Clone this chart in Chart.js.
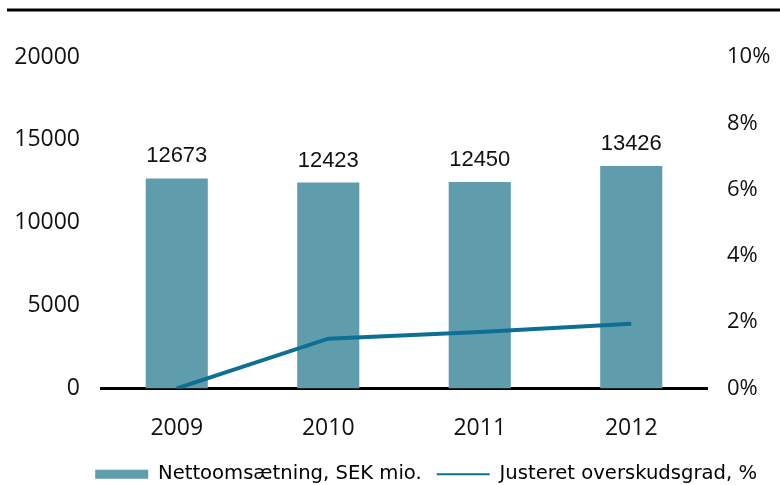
<!DOCTYPE html>
<html>
<head>
<meta charset="utf-8">
<script src="https://cdn.jsdelivr.net/npm/chart.js@4"></script>
<style>
  body { margin: 0; background: #fff; }
  canvas { display: block; }
</style>
</head>
<body>
<canvas id="chart" width="780" height="485"></canvas>
<script>
// ==================== DATA ====================
const years = ['2009', '2010', '2011', '2012'];
const netSales = [12673, 12423, 12450, 13426];      // SEK mio.
const marginPct = [0, 1.5, 1.7, 1.95];              // %
const salesLabel = 'Nettoomsætning, SEK mio.';
const marginLabel = 'Justeret overskudsgrad, %';

const BAR_COLOR = '#5f9dad';
const LINE_COLOR = '#0e6f95';
const TICK_FONT = { family: 'Open Sans', size: 23 };

// ==================== PLUGINS ====================
// black rule across the top of the figure
const topRule = {
    id: 'topRule',
    beforeDraw(chart) {
        const ctx = chart.ctx;
        ctx.save();
        ctx.strokeStyle = '#000';
        ctx.lineWidth = 3;
        ctx.beginPath();
        ctx.moveTo(7, 10);
        ctx.lineTo(chart.width, 10);
        ctx.stroke();
        ctx.restore();
    }
};

// value labels above the bars
const barValues = {
    id: 'barValues',
    afterDatasetsDraw(chart) {
        const ctx = chart.ctx;
        const meta = chart.getDatasetMeta(0);
        ctx.save();
        ctx.font = '22px "Liberation Sans", Arial, sans-serif';
        ctx.fillStyle = '#111';
        ctx.textAlign = 'center';
        ctx.textBaseline = 'middle';
        meta.data.forEach((bar, i) => {
            ctx.fillText(String(netSales[i]), bar.x, bar.y - 22);
        });
        ctx.restore();
    }
};

// ==================== CHART ====================
const ctx = document.getElementById('chart').getContext('2d');
new Chart(ctx, {
    type: 'bar',
    data: {
        labels: years,
        datasets: [
            {
                type: 'bar',
                label: salesLabel,
                data: netSales,
                backgroundColor: BAR_COLOR,
                yAxisID: 'y',
                order: 2,
                categoryPercentage: 1,
                barPercentage: 0.41
            },
            {
                type: 'line',
                label: marginLabel,
                data: marginPct,
                borderColor: LINE_COLOR,
                backgroundColor: LINE_COLOR,
                borderWidth: 4,
                pointRadius: 0,
                tension: 0,
                yAxisID: 'y1',
                order: 1
            }
        ]
    },
    options: {
        responsive: false,
        animation: false,
        layout: { padding: { top: 57, right: 8, left: 0, bottom: -9 } },
        plugins: {
            tooltip: { enabled: false },
            legend: {
                position: 'bottom',
                align: 'end',
                labels: {
                    usePointStyle: true,
                    pointStyleWidth: 53,
                    boxHeight: 9,
                    padding: 15,
                    color: '#111',
                    font: { family: 'DejaVu Sans', size: 19.6 },
                    generateLabels(chart) {
                        return chart.data.datasets.map((ds, i) => ({
                            text: ds.label,
                            fillStyle: ds.backgroundColor,
                            strokeStyle: ds.type === 'line' ? ds.borderColor : ds.backgroundColor,
                            lineWidth: ds.type === 'line' ? 2 : 0,
                            pointStyle: ds.type === 'line' ? 'line' : 'rect',
                            datasetIndex: i,
                            hidden: false
                        }));
                    }
                }
            }
        },
        scales: {
            x: {
                grid: { display: false, drawTicks: false },
                border: { display: true, color: '#000', width: 3 },
                ticks: { color: '#111', font: TICK_FONT, padding: 26 },
                afterFit(scale) { scale.height = 61; }
            },
            y: {
                position: 'left',
                min: 0,
                max: 20000,
                grid: { display: false, drawTicks: false },
                border: { display: false },
                ticks: {
                    stepSize: 5000,
                    color: '#111',
                    font: TICK_FONT,
                    padding: 21,
                    callback: v => String(v)
                },
                afterFit(scale) { scale.width = 101; }
            },
            y1: {
                position: 'right',
                min: 0,
                max: 10,
                grid: { display: false, drawTicks: false },
                border: { display: false },
                ticks: {
                    stepSize: 2,
                    color: '#111',
                    font: { family: 'Open Sans', size: 22 },
                    padding: 20,
                    callback: v => v + '%'
                },
                afterFit(scale) { scale.width = 65; }
            }
        }
    },
    plugins: [topRule, barValues]
});
</script>
</body>
</html>
